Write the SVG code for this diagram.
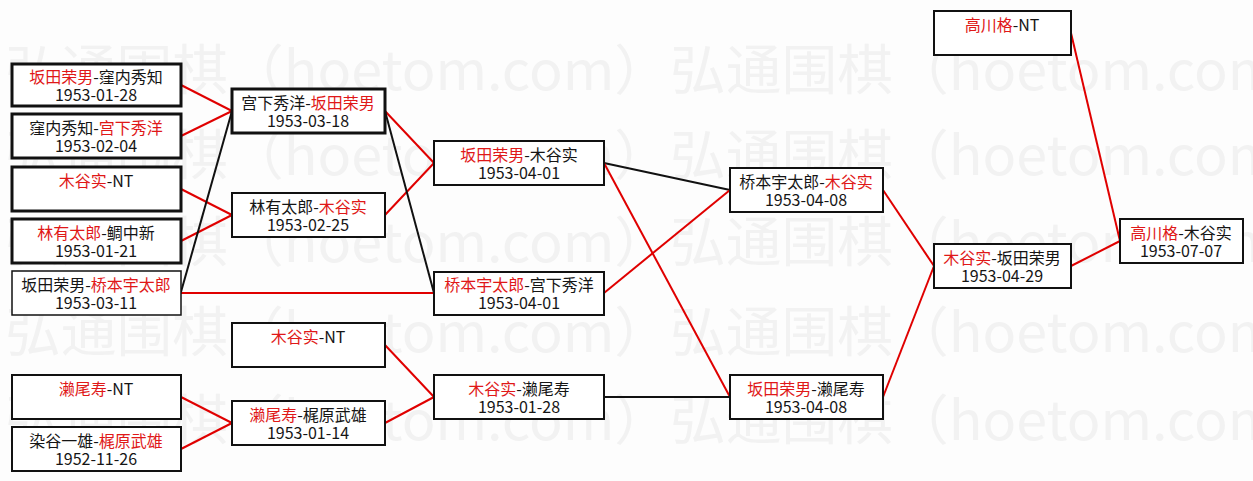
<svg xmlns="http://www.w3.org/2000/svg" width="1253" height="481" viewBox="0 0 1253 481">
<style>
.bg{fill:#fdfdfd}
.wm{font-family:"Noto Sans CJK SC","Liberation Sans",sans-serif;font-size:54px;fill:#f2f2f2}
.box{fill:#ffffff;stroke:#111;stroke-width:2}
.thick{stroke-width:3}
.thin{stroke-width:1.5}
.t{font-family:"Noto Sans CJK SC","Liberation Sans",sans-serif;font-size:16px;fill:#151515;text-anchor:middle}
.r{fill:#e01818}
.lr{stroke:#e00000;stroke-width:2;fill:none}
.lk{stroke:#111;stroke-width:2;fill:none}
</style>
<rect class="bg" x="0" y="0" width="1253" height="481"/>
<g id="watermark">
<text class="wm" x="5" y="90" textLength="1330" lengthAdjust="spacingAndGlyphs">弘通围棋（hoetom.com）弘通围棋（hoetom.com）</text>
<text class="wm" x="5" y="175" textLength="1330" lengthAdjust="spacingAndGlyphs">弘通围棋（hoetom.com）弘通围棋（hoetom.com）</text>
<text class="wm" x="5" y="262" textLength="1330" lengthAdjust="spacingAndGlyphs">弘通围棋（hoetom.com）弘通围棋（hoetom.com）</text>
<text class="wm" x="5" y="352" textLength="1330" lengthAdjust="spacingAndGlyphs">弘通围棋（hoetom.com）弘通围棋（hoetom.com）</text>
<text class="wm" x="5" y="440" textLength="1330" lengthAdjust="spacingAndGlyphs">弘通围棋（hoetom.com）弘通围棋（hoetom.com）</text>
</g>
<g id="connectors">
<line class="lr" x1="181" y1="85" x2="232" y2="111"/>
<line class="lr" x1="181" y1="136" x2="232" y2="111"/>
<line class="lr" x1="181" y1="189" x2="232" y2="215"/>
<line class="lr" x1="181" y1="241" x2="232" y2="215"/>
<line class="lk" x1="181" y1="292" x2="232" y2="111"/>
<line class="lr" x1="181" y1="293" x2="434" y2="293"/>
<line class="lr" x1="181" y1="397" x2="232" y2="423"/>
<line class="lr" x1="181" y1="449" x2="232" y2="423"/>
<line class="lr" x1="385" y1="111" x2="434" y2="163"/>
<line class="lr" x1="385" y1="215" x2="434" y2="163"/>
<line class="lk" x1="385" y1="111" x2="434" y2="293"/>
<line class="lr" x1="385" y1="345" x2="434" y2="397"/>
<line class="lr" x1="385" y1="423" x2="434" y2="397"/>
<line class="lk" x1="604" y1="163" x2="730" y2="190"/>
<line class="lr" x1="604" y1="163" x2="730" y2="397"/>
<line class="lr" x1="604" y1="293" x2="730" y2="190"/>
<line class="lk" x1="604" y1="397" x2="730" y2="397"/>
<line class="lr" x1="883" y1="190" x2="934" y2="266"/>
<line class="lr" x1="883" y1="397" x2="934" y2="266"/>
<line class="lr" x1="1071" y1="33" x2="1120" y2="241"/>
<line class="lr" x1="1071" y1="266" x2="1120" y2="241"/>
</g>
<g id="b1"><rect class="box thick" x="12" y="64" width="169" height="42"/>
<text class="t" x="96" y="83"><tspan class="r">坂田荣男</tspan>-窪内秀知</text><text class="t" x="96" y="101">1953-01-28</text></g>
<g id="b2"><rect class="box thick" x="12" y="114" width="169" height="44"/>
<text class="t" x="96" y="134">窪内秀知-<tspan class="r">宫下秀洋</tspan></text><text class="t" x="96" y="152">1953-02-04</text></g>
<g id="b3"><rect class="box thick" x="12" y="167" width="169" height="44"/>
<text class="t" x="96" y="187"><tspan class="r">木谷实</tspan>-NT</text></g>
<g id="b4"><rect class="box thick" x="12" y="219" width="169" height="44"/>
<text class="t" x="96" y="239"><tspan class="r">林有太郎</tspan>-鲷中新</text><text class="t" x="96" y="257">1953-01-21</text></g>
<g id="b5"><rect class="box thin" x="12" y="271" width="169" height="44"/>
<text class="t" x="96" y="291">坂田荣男-<tspan class="r">桥本宇太郎</tspan></text><text class="t" x="96" y="309">1953-03-11</text></g>
<g id="b6"><rect class="box" x="12" y="375" width="169" height="44"/>
<text class="t" x="96" y="395"><tspan class="r">濑尾寿</tspan>-NT</text></g>
<g id="b7"><rect class="box" x="12" y="427" width="169" height="44"/>
<text class="t" x="96" y="447">染谷一雄-<tspan class="r">梶原武雄</tspan></text><text class="t" x="96" y="465">1952-11-26</text></g>
<g id="c1"><rect class="box thick" x="232" y="89" width="153" height="44"/>
<text class="t" x="308" y="109">宫下秀洋-<tspan class="r">坂田荣男</tspan></text><text class="t" x="308" y="127">1953-03-18</text></g>
<g id="c2"><rect class="box" x="232" y="193" width="153" height="44"/>
<text class="t" x="308" y="213">林有太郎-<tspan class="r">木谷实</tspan></text><text class="t" x="308" y="231">1953-02-25</text></g>
<g id="c3"><rect class="box" x="232" y="323" width="153" height="44"/>
<text class="t" x="308" y="343"><tspan class="r">木谷实</tspan>-NT</text></g>
<g id="c4"><rect class="box" x="232" y="401" width="153" height="44"/>
<text class="t" x="308" y="421"><tspan class="r">濑尾寿</tspan>-梶原武雄</text><text class="t" x="308" y="439">1953-01-14</text></g>
<g id="d1"><rect class="box" x="434" y="141" width="170" height="44"/>
<text class="t" x="519" y="161"><tspan class="r">坂田荣男</tspan>-木谷实</text><text class="t" x="519" y="179">1953-04-01</text></g>
<g id="d2"><rect class="box" x="434" y="272" width="170" height="43"/>
<text class="t" x="519" y="291"><tspan class="r">桥本宇太郎</tspan>-宫下秀洋</text><text class="t" x="519" y="309">1953-04-01</text></g>
<g id="d3"><rect class="box" x="434" y="375" width="170" height="44"/>
<text class="t" x="519" y="395"><tspan class="r">木谷实</tspan>-濑尾寿</text><text class="t" x="519" y="413">1953-01-28</text></g>
<g id="e1"><rect class="box" x="730" y="168" width="153" height="44"/>
<text class="t" x="806" y="188">桥本宇太郎-<tspan class="r">木谷实</tspan></text><text class="t" x="806" y="206">1953-04-08</text></g>
<g id="e2"><rect class="box" x="730" y="375" width="153" height="44"/>
<text class="t" x="806" y="395"><tspan class="r">坂田荣男</tspan>-濑尾寿</text><text class="t" x="806" y="413">1953-04-08</text></g>
<g id="f1"><rect class="box" x="934" y="11" width="137" height="44"/>
<text class="t" x="1002" y="31"><tspan class="r">高川格</tspan>-NT</text></g>
<g id="f2"><rect class="box" x="934" y="244" width="137" height="44"/>
<text class="t" x="1002" y="264"><tspan class="r">木谷实</tspan>-坂田荣男</text><text class="t" x="1002" y="282">1953-04-29</text></g>
<g id="g"><rect class="box" x="1120" y="219" width="123" height="44"/>
<text class="t" x="1181" y="239"><tspan class="r">高川格</tspan>-木谷实</text><text class="t" x="1181" y="257">1953-07-07</text></g>
</svg>
